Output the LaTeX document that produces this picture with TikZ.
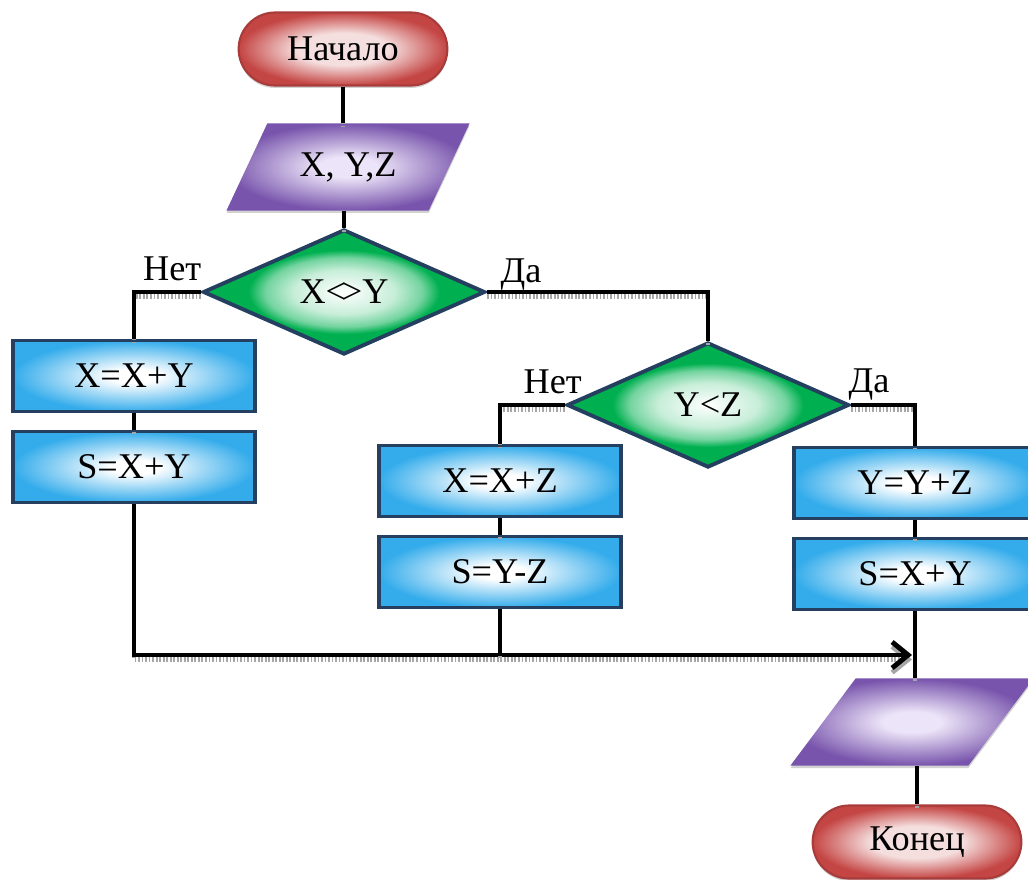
\documentclass[tikz,border=0pt]{standalone}
\usepackage{fontspec}
\setmainfont{Liberation Serif}
\usetikzlibrary{%
  arrows.meta,%
  shapes.geometric,%
  shapes.misc,%
  shadows,%
  positioning}
\definecolor{navy}{RGB}{36,63,96}
\definecolor{termred}{RGB}{196,70,68}
\definecolor{termpink}{RGB}{245,222,222}
\definecolor{iopurple}{RGB}{120,84,172}
\definecolor{iolight}{RGB}{236,228,248}
\definecolor{ifgreen}{RGB}{0,176,80}
\definecolor{boxblue}{RGB}{52,172,235}
\pgfdeclareradialshading{termshade}{\pgfpoint{0bp}{0bp}}{color(0bp)=(termpink); color(11bp)=(termpink); color(25bp)=(termred); color(50bp)=(termred)}
\pgfdeclareradialshading{ioshade}{\pgfpoint{0bp}{0bp}}{color(0bp)=(iolight); color(6bp)=(iolight); color(25bp)=(iopurple); color(50bp)=(iopurple)}
\pgfdeclareradialshading{ifshade}{\pgfpoint{0bp}{0bp}}{color(0bp)=(white); color(9bp)=(ifgreen!22); color(14bp)=(ifgreen!55); color(17bp)=(ifgreen); color(50bp)=(ifgreen)}
\pgfdeclareradialshading{boxshade}{\pgfpoint{0bp}{0bp}}{color(0bp)=(white); color(5bp)=(white); color(25bp)=(boxblue); color(50bp)=(boxblue)}

\begin{document}
\begin{tikzpicture}[x=0.01cm,y=-0.01cm,
    every node/.style={font=\fontsize{10.3}{12}\selectfont},
    term/.style={rounded rectangle,draw=termred!85!black,line width=0.6pt,shading=termshade,
      minimum width=2.32cm,minimum height=0.73cm,
      drop shadow={shadow xshift=0pt,shadow yshift=-0.7pt,fill=black!35}},
    io/.style={trapezium,trapezium left angle=60,trapezium right angle=120,trapezium stretches=true,
      shading=ioshade,minimum width=2.43cm,minimum height=0.87cm,
      drop shadow={shadow xshift=0pt,shadow yshift=-0.7pt,fill=black!35}},
    cond/.style={diamond,aspect=2.25,inner sep=0pt,draw=navy,line width=1.1pt,shading=ifshade,
      minimum width=2.82cm,minimum height=1.25cm},
    act/.style={rectangle,draw=navy,line width=1.1pt,shading=boxshade,minimum width=2.42cm,minimum height=0.71cm},
    lbl/.style={inner sep=0pt},
    flow/.style={line width=1.4pt,preaction={draw=black!35,line width=1.4pt,dash pattern=on 0.5pt off 0.5pt,
      transform canvas={yshift=-0.045cm}}},
    >={Straight Barb[length=1.6mm,width=2.6mm]}]
  \useasboundingbox (0,0) rectangle (1028,879);
  \clip (0,0) rectangle (1028,879);
  \node[term] (start) at (343,49) {Начало};
  \node[io] (in) at (348,167) {X, Y,Z};
  \node[cond] (c1) at (344,292) {X<\kern-0.12em>Y};
  \node[act] (l1) at (134,376) {X=X+Y};
  \node[act] (l2) at (134,467) {S=X+Y};
  \node[cond] (c2) at (708,405) {Y<Z};
  \node[act] (m1) at (500,481) {X=X+Z};
  \node[act] (m2) at (500,572) {S=Y-Z};
  \node[act] (r1) at (915,483) {Y=Y+Z};
  \node[act] (r2) at (915,574) {S=X+Y};
  \node[io] (out) at (912,722) {};
  \node[term] (stop) at (917,842) {Конец};
  \node[lbl,anchor=base east] (no1) at (202,280) {Нет};
  \node[lbl,anchor=base west] (yes1) at (500,282) {Да};
  \node[lbl,anchor=base west] (no2) at (523,393) {Нет};
  \node[lbl,anchor=base west] (yes2) at (848,392) {Да};
  \coordinate (join) at (912,655);
  \draw[flow] (start.south) -- (start.south |- in.north);
  \draw[flow] (in.south -| c1.north) -- (c1.north);
  \draw[flow] (c1.west) -| (l1.north);
  \draw[flow] (l1) -- (l2);
  \draw[flow] (c1.east) -| (c2.north);
  \draw[flow] (c2.west) -| (m1.north);
  \draw[flow] (m1) -- (m2);
  \draw[flow] (c2.east) -| (r1.north);
  \draw[flow] (r1) -- (r2);
  \draw[flow,->] (l2.south) |- (join);
  \draw[flow] (m2.south) -- (m2.south |- join);
  \draw[flow] (r2.south) -- (r2.south |- out.north);
  \draw[flow] (out.south -| stop.north) -- (stop.north);
\end{tikzpicture}
\end{document}
